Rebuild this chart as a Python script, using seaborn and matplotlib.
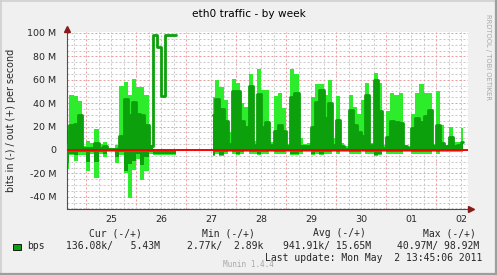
import numpy as np
import pandas as pd
import matplotlib
matplotlib.use("Agg")
import matplotlib.pyplot as plt
import seaborn as sns
from matplotlib.lines import Line2D

nan = np.nan

# ---- data (Mbit/s), one sample per 2 hours starting Apr 24 ~15:00 ----
out_max = [17, 47, 46, 42, 3, 8, 6, 18, 5, 7,
           2, 2, 4, 55, 58, 47, 61, 54, 54, 47,
           4, 98, 88, 46, 98, 98, 98, nan, nan, nan,
           nan, nan, nan, nan, nan, 45, 60, 54, 43, 15,
           61, 57, 40, 37, 65, 8, 69, 51, 51, 7,
           46, 49, 36, 5, 69, 65, 10, 5, 6, 45,
           56, 56, 47, 60, 10, 46, 6, 3, 47, 37,
           31, 43, 57, 6, 66, 57, 4, 33, 49, 47,
           49, 4, 3, 31, 49, 56, 49, 49, 5, 50,
           21, 4, 20, 7, 7, 19]
out_avg = [4, 21, 22, 30, 2, 2, 2, 6, 2, 3,
           1, 1, 1, 12, 44, 30, 41, 31, 30, 21,
           3, 98, 88, 46, 98, 98, 98, nan, nan, nan,
           nan, nan, nan, nan, nan, 30, 44, 35, 25, 5,
           50, 50, 25, 20, 55, 4, 48, 20, 24, 4,
           16, 21, 16, 3, 45, 49, 3, 3, 3, 20,
           41, 51, 27, 40, 4, 26, 3, 1, 34, 21,
           15, 12, 47, 4, 60, 33, 2, 11, 25, 24,
           23, 3, 2, 19, 27, 24, 29, 34, 3, 21,
           6, 3, 11, 3, 4, 7]
out_base = [0, 0, 0, 0, 0, 0, 0, 0, 0, 0,
            0, 0, 0, 0, 0, 0, 0, 0, 0, 0,
            0, 98, 88, 46, 98, 98, 98, 0, 0, 0,
            0, 0, 0, 0, 0, 0, 0, 0, 0, 0,
            0, 0, 0, 0, 0, 0, 0, 0, 0, 0,
            0, 0, 0, 0, 0, 0, 0, 0, 0, 0,
            0, 0, 0, 0, 0, 0, 0, 0, 0, 0,
            0, 0, 0, 0, 0, 0, 0, 0, 0, 0,
            0, 0, 0, 0, 0, 0, 0, 0, 0, 0,
            0, 0, 0, 0, 0, 0]
in_max = [16, 4, 9, 4, 4, 18, 3, 24, 3, 6,
          2, 2, 11, 4, 20, 41, 17, 8, 26, 18,
          3, 4, 4, 4, 4, 4, 4, nan, nan, nan,
          nan, nan, nan, nan, nan, 5, 3, 5, 3, 2,
          3, 4, 3, 2, 3, 3, 4, 3, 3, 2,
          3, 3, 3, 2, 4, 4, 3, 2, 2, 4,
          3, 4, 3, 3, 2, 3, 2, 2, 3, 3,
          3, 2, 3, 3, 5, 4, 2, 3, 3, 3,
          3, 2, 2, 3, 3, 3, 3, 3, 2, 3,
          2, 2, 2, 2, 2, 2]
in_avg = [11, 3, 4, 2, 2, 10, 2, 10, 2, 3,
          1, 1, 6, 2, 18, 12, 9, 3, 13, 6,
          2, 3, 3, 3, 3, 3, 3, nan, nan, nan,
          nan, nan, nan, nan, nan, 4, 2, 4, 2, 1,
          2, 3, 2, 1, 2, 2, 3, 2, 2, 1,
          2, 2, 2, 1, 3, 3, 2, 1, 1, 3,
          2, 3, 2, 2, 1, 2, 1, 1, 2, 2,
          2, 1, 2, 2, 4, 3, 1, 2, 2, 2,
          2, 1, 1, 2, 2, 2, 2, 2, 1, 2,
          1, 1, 1, 1, 1, 1]

day_labels = ["25", "26", "27", "28", "29", "30", "01", "02"]
y_ticks = [-40, -20, 0, 20, 40, 60, 80, 100]
y_tick_labels = ["-40 M", "-20 M", "0", "20 M", "40 M", "60 M", "80 M", "100 M"]
title = "eth0 traffic - by week"
y_label = "bits in (-) / out (+) per second"
legend_headers = ["Cur (-/+)", "Min (-/+)", "Avg (-/+)", "Max (-/+)"]
legend_values = ["136.08k/   5.43M", "2.77k/  2.89k", "941.91k/ 15.65M", "40.97M/ 98.92M"]
series_name = "bps"
last_update = "Last update: Mon May  2 13:45:06 2011"
footer = "Munin 1.4.4"
side_text = "RRDTOOL / TOBI OETIKER"

# ---- style ----
sns.set_style("white")
plt.rcParams["font.family"] = ["DejaVu Sans"]

DARK = "#0ca00c"
LIGHT = "#2cec2c"
BG = "#f0f0f0"
MINOR = "#c8c8c8"
MAJOR = "#e8a0a0"

W, H = 497, 275
fig = plt.figure(figsize=(W / 100, H / 100), dpi=100, facecolor=BG)

def fx(x):
    return x / W

def fy(y):
    return 1 - y / H

L, R, T, B = 67, 468, 31.8, 208.5
ax = fig.add_axes([fx(L), fy(B), (R - L) / W, (B - T) / H])
ax.set_facecolor("white")

n = len(out_max)
days = -0.375 + np.arange(n) / 12.0
xlim = (-0.38, 7.64)
ylim = (-50, 101)

# grid
for d in np.arange(-0.25, 7.64, 0.25):
    if abs(d - round(d)) > 1e-6:
        ax.axvline(d, color=MINOR, lw=0.72, ls=(0, (2, 2)), zorder=0)
for d in range(0, 8):
    ax.axvline(d, color=MAJOR, lw=0.72, ls=(0, (2, 2)), zorder=0)
for v in range(-50, 101, 5):
    if v % 20 != 0:
        ax.axhline(v, color=MINOR, lw=0.72, ls=(0, (2, 2)), zorder=0)
for v in y_ticks:
    ax.axhline(v, color=MAJOR, lw=0.72, ls=(0, (2, 2)), zorder=0)

om = np.array(out_max, float)
oa = np.array(out_avg, float)
ob = np.array(out_base, float)
im = np.array(in_max, float)
ia = np.array(in_avg, float)

ax.fill_between(days, ob, om, step="mid", color=LIGHT, lw=0, zorder=2)
ax.fill_between(days, ob, oa, step="mid", color=DARK, lw=0, zorder=3)
ax.fill_between(days, -im, 0, step="mid", color=LIGHT, lw=0, zorder=2)
ax.fill_between(days, -ia, 0, step="mid", color=DARK, lw=0, zorder=3)

df = pd.DataFrame({"day": days, "out": oa, "seg": np.cumsum(np.isnan(oa))}).dropna()
sns.lineplot(data=df, x="day", y="out", units="seg", estimator=None,
             drawstyle="steps-mid", color=DARK, lw=2.0, ax=ax, legend=False, zorder=4)

ax.axhline(0, color="#ff0000", lw=1.4, zorder=5)

ax.set_xlim(*xlim)
ax.set_ylim(*ylim)
ax.set_xlabel("")
ax.set_ylabel("")

ax.set_xticks(np.arange(len(day_labels)) + 0.5)
ax.set_xticklabels(day_labels, fontsize=6.8)
ax.set_xticks(np.arange(0, 8), minor=True)
ax.tick_params(axis="x", which="major", length=0, pad=5)
ax.tick_params(axis="x", which="minor", length=3, width=0.7, color="#404040", direction="out")
ax.set_yticks(y_ticks)
ax.set_yticklabels(y_tick_labels, fontsize=6.8)
ax.tick_params(axis="y", which="major", length=3, width=0.7, color="#404040", direction="out", pad=4.5)

for s in ["top", "right"]:
    ax.spines[s].set_visible(False)
for s in ["left", "bottom"]:
    ax.spines[s].set_color("#505050")
    ax.spines[s].set_linewidth(0.8)

ax.plot([1.0075], [0], marker=">", ms=4, color="#8b1a1a", transform=ax.transAxes, clip_on=False, zorder=6)
ax.plot([0], [1.0175], marker="^", ms=4, color="#8b1a1a", transform=ax.transAxes, clip_on=False, zorder=6)

# texts
fig.text(fx(248.5), fy(14), title, ha="center", va="center", fontsize=7.6, color="black")
fig.text(fx(11), fy(120.5), y_label, rotation=90, ha="center", va="center", fontsize=6.9)
fig.text(fx(488), fy(57), side_text, rotation=270, ha="center", va="center", fontsize=4.9, color="#a8a8a8")

mono = "DejaVu Sans Mono"
for xh, txt in zip([89, 201.7, 312.7, 423], legend_headers):
    fig.text(fx(xh), fy(233.3), txt, ha="left", va="center", fontsize=7, family=mono)
for xv, txt in zip([66, 186.7, 283, 396.7], legend_values):
    fig.text(fx(xv), fy(246), txt, ha="left", va="center", fontsize=7, family=mono)
fig.text(fx(27), fy(246), series_name, ha="left", va="center", fontsize=7, family=mono)
fig.patches.append(plt.Rectangle((fx(13.3), fy(249.5)), 7.2 / W, 6 / H, transform=fig.transFigure,
                                 facecolor=DARK, edgecolor="black", lw=0.6, figure=fig))
fig.text(fx(482.7), fy(257.7), last_update, ha="right", va="center", fontsize=7, family=mono)
fig.text(fx(248), fy(264.5), footer, ha="center", va="center", fontsize=5.6, color="#a8a8a8", family=mono)

# frame
fig.add_artist(Line2D([0, 1], [fy(0.5), fy(0.5)], transform=fig.transFigure, color="#cfcfcf", lw=1.2))
fig.add_artist(Line2D([fx(0.5), fx(0.5)], [0, 1], transform=fig.transFigure, color="#cfcfcf", lw=1.2))
fig.add_artist(Line2D([0, 1], [fy(274), fy(274)], transform=fig.transFigure, color="#9e9e9e", lw=1.6))
fig.add_artist(Line2D([fx(496), fx(496)], [0, 1], transform=fig.transFigure, color="#9e9e9e", lw=1.6))

fig.savefig("out.png", dpi=100, facecolor=BG)
